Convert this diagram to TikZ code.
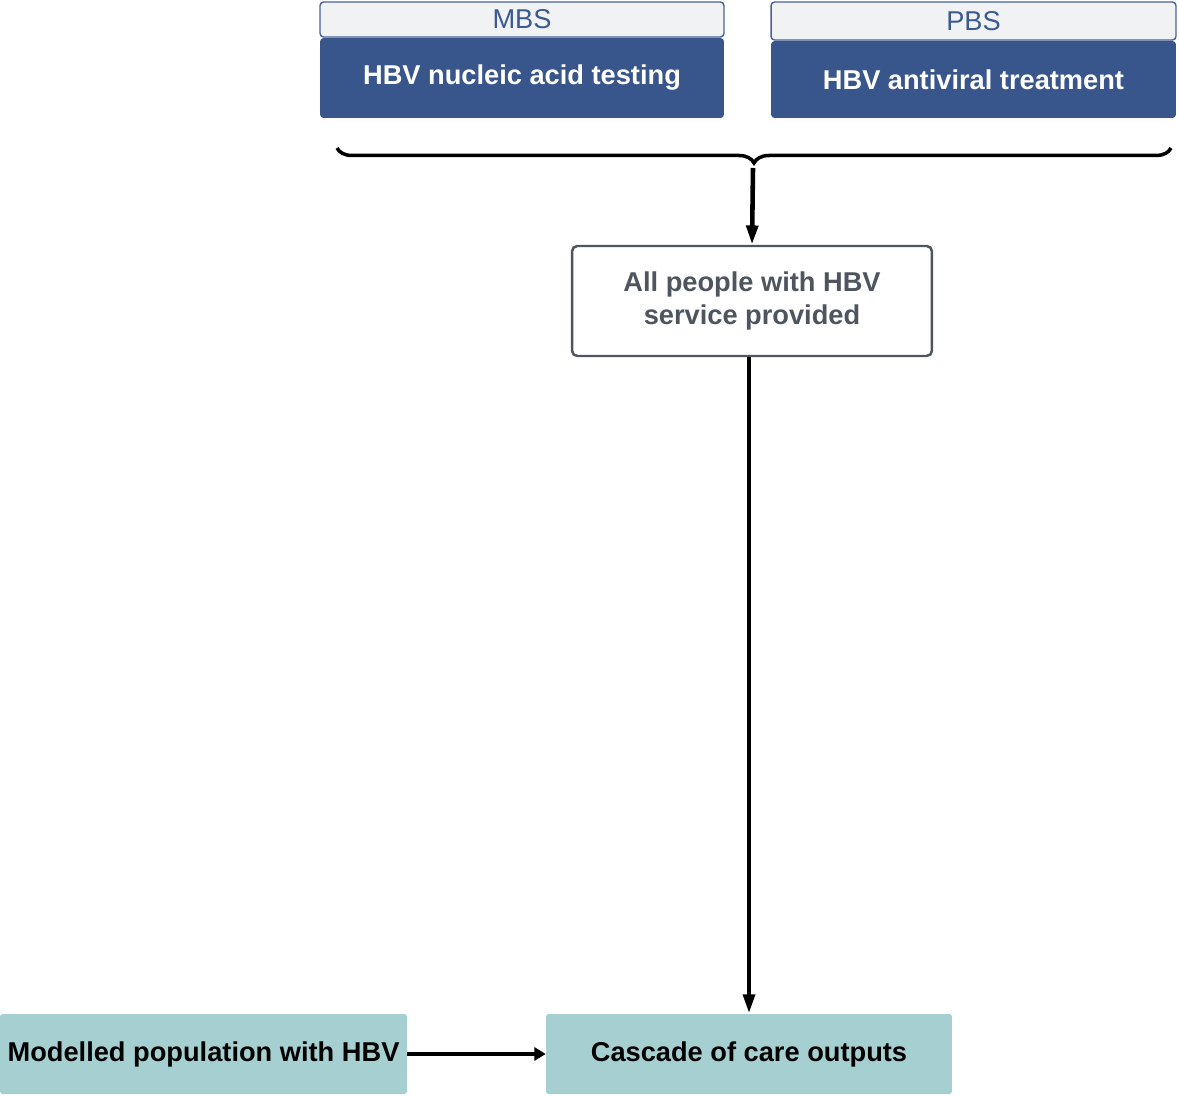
\documentclass[tikz,border=0pt]{standalone}
\usepackage{fontspec}
\setmainfont{Liberation Sans}
\usepackage{tikz}
\usetikzlibrary{arrows.meta,positioning,decorations.pathreplacing}
\definecolor{hdrfill}{HTML}{F1F2F4}
\definecolor{hdrline}{HTML}{4A6396}
\definecolor{hdrtext}{HTML}{3B5A8F}
\definecolor{svcblue}{HTML}{38568C}
\definecolor{boxgray}{HTML}{4F555F}
\definecolor{outteal}{HTML}{A6CFD1}
\tikzset{
    header/.style={draw=hdrline, fill=hdrfill, rounded corners=2pt, line width=0.8pt, text=hdrtext, font=\fontsize{15.5}{18}\selectfont, minimum width=8.08cm, inner sep=0pt},
    service/.style={fill=svcblue, rounded corners=2pt, text=white, font=\fontsize{15.5}{18}\selectfont\bfseries, minimum width=8.08cm, inner sep=0pt},
    pool/.style={draw=boxgray, fill=white, rounded corners=3pt, line width=1.4pt, text=boxgray, font=\fontsize{15.5}{18.7}\selectfont\bfseries, align=center, minimum width=7.2cm, minimum height=2.2cm, inner sep=0pt},
    output/.style={fill=outteal, rounded corners=1.5pt, text=black, font=\fontsize{15.5}{18}\selectfont\bfseries, minimum height=1.6cm, inner sep=0pt},
    flow/.style={draw, line width=2.6pt, -{Triangle[length=11pt,width=6.5pt]}},
    feed/.style={draw, line width=1.9pt, -{Triangle[length=6.5pt,width=7.5pt]}}
}
\begin{document}
\begin{tikzpicture}[x=0.02cm, y=-0.02cm]
    \useasboundingbox (0,0) rectangle (1179,1097);
    % Nodes
    \node[header, minimum height=0.7cm] (mbs) at (522,19.5) {MBS};
    \node[service, minimum height=1.6cm] (nat) at (522,78) {HBV nucleic acid testing};
    \node[header, minimum height=0.76cm, minimum width=8.1cm] (pbs) at (973.5,21) {PBS};
    \node[service, minimum height=1.54cm, minimum width=8.1cm] (avt) at (973.5,79.5) {HBV antiviral treatment};
    \node[pool] (people) at (752,301) {All people with HBV\\service provided};
    \node[output, minimum width=8.12cm] (cascade) at (749,1054) {Cascade of care outputs};
    \node[output, minimum width=8.14cm] (model) at (203.5,1054) {Modelled population with HBV};

    % brace under the two services
    \coordinate (braceW) at (337,148);
    \coordinate (braceE) at (1171,148);
    \coordinate (braceTip) at (753,168);
    \draw[line width=2pt, decorate, decoration={brace, mirror, amplitude=0.3cm}] (braceW) -- (braceE);

    % edges
    \draw[flow] (braceTip) -- (people.north);
    \draw[flow] (people.south -| cascade.north) -- (cascade.north);
    \draw[feed] (model.east) -- (cascade.west);
\end{tikzpicture}
\end{document}
